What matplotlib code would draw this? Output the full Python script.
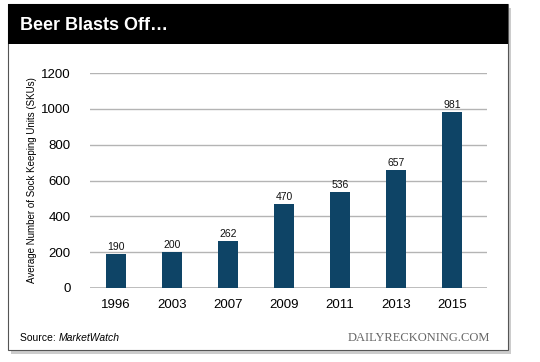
import matplotlib
matplotlib.use('Agg')
import matplotlib.pyplot as plt
from matplotlib.patches import Rectangle

plt.rcParams['font.family'] = ['Liberation Sans', 'DejaVu Sans']

years = ['1996', '2003', '2007', '2009', '2011', '2013', '2015']
skus = [190, 200, 262, 470, 536, 657, 981]
y_ticks = [0, 200, 400, 600, 800, 1000, 1200]

fig = plt.figure(figsize=(5.4, 3.62), dpi=100)
fig.patch.set_facecolor('white')

# card shadow, card and title bar (figure coords)
W, H = 540.0, 362.0
def fx(px): return px / W
def fy(py): return 1 - py / H

fig.patches.append(Rectangle((fx(11), fy(354)), fx(508) - fx(8), fy(4) - fy(350),
                             transform=fig.transFigure, facecolor='#9a9a9a',
                             edgecolor='none', alpha=0.5, zorder=0))
fig.patches.append(Rectangle((fx(8), fy(350)), fx(508) - fx(8), fy(4) - fy(350),
                             transform=fig.transFigure, facecolor='white',
                             edgecolor='#555555', linewidth=0.8, zorder=1))
fig.patches.append(Rectangle((fx(8), fy(44)), fx(508) - fx(8), fy(4) - fy(44),
                             transform=fig.transFigure, facecolor='black',
                             edgecolor='none', zorder=2))
fig.text(fx(20), fy(25), 'Beer Blasts Off\u2026', color='white', fontsize=13,
         fontweight='bold', va='center', ha='left', zorder=3)

ax = fig.add_axes([fx(90), fy(288), fx(487) - fx(90), fy(73) - fy(288)])
ax.set_zorder(5)
ax.set_facecolor('none')
x = list(range(len(years)))
ax.bar(x, skus, width=0.36, color='#0e4466', zorder=3)
for xi, v in zip(x, skus):
    ax.text(xi, v + 12, str(v), ha='center', va='bottom', fontsize=7.5, color='#111111')

ax.set_xlim(-0.464, 6.625)
ax.set_ylim(0, 1200)
ax.set_yticks(y_ticks)
ax.set_yticklabels([str(t) for t in y_ticks], fontsize=9.5)
ax.set_xticks(x)
ax.set_xticklabels(years, fontsize=9.5)
ax.tick_params(length=0, pad=14)
ax.tick_params(axis='x', pad=8)
ax.grid(axis='y', color='#b4b4b4', linewidth=1.0, zorder=0)
for s in ax.spines.values():
    s.set_visible(False)
ax.axhline(0, color='#b4b4b4', linewidth=1.2, zorder=2)
ax.set_ylabel('Average Number of Sock Keeping Units (SKUs)', fontsize=7, labelpad=3)

src = fig.text(fx(20), fy(338), 'Source: ', fontsize=7.5, va='center', ha='left', zorder=6)
fig.canvas.draw()
bb = src.get_window_extent()
fig.text(bb.x1 / W, fy(338), 'MarketWatch', fontsize=7.5, va='center', ha='left',
         style='italic', zorder=6)
fig.text(fx(490), fy(338), 'DAILYRECKONING.COM', fontsize=9, va='center', ha='right',
         family='Liberation Serif', color='#666666', zorder=6)

fig.savefig('out.png', dpi=100, facecolor='white')
